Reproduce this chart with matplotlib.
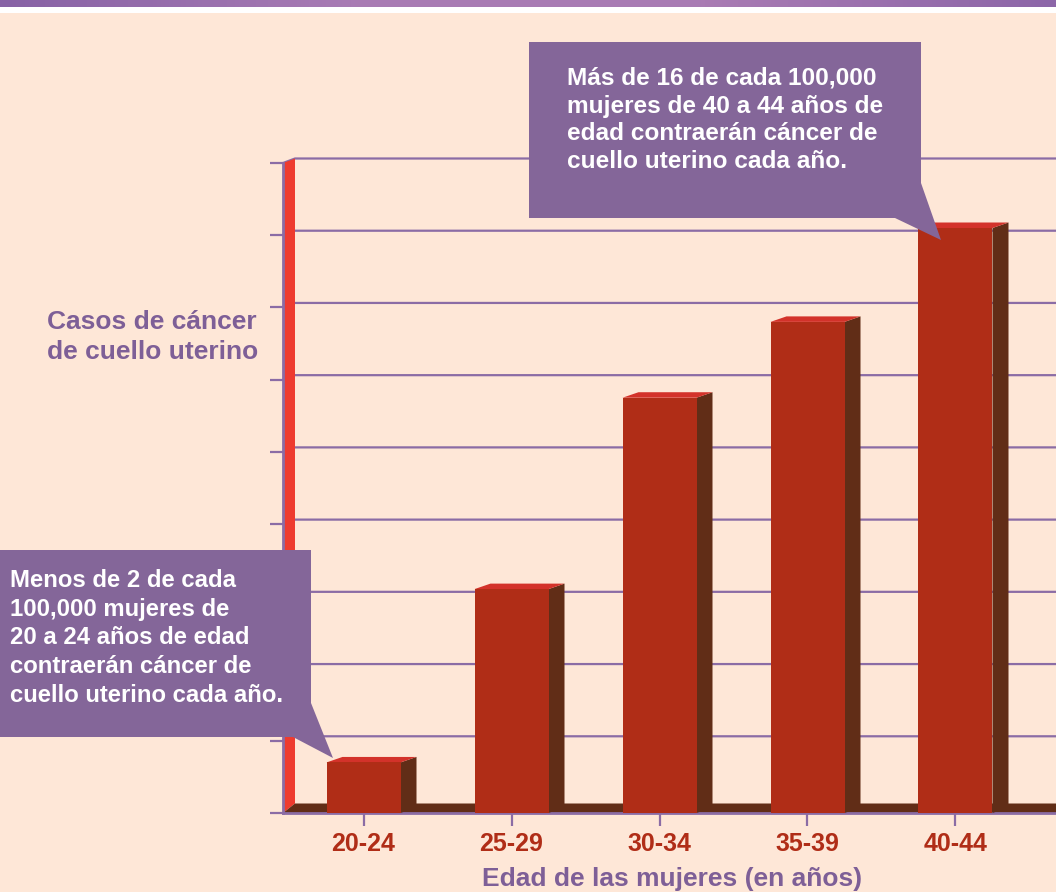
import numpy as np
import matplotlib
matplotlib.use("Agg")
import matplotlib.pyplot as plt
from matplotlib.patches import Rectangle, Polygon
from matplotlib.colors import LinearSegmentedColormap

# datos: casos de cancer de cuello uterino por cada 100,000 mujeres
edades = ["20-24", "25-29", "30-34", "35-39", "40-44"]
casos = [1.4, 6.2, 11.5, 13.6, 16.2]
yticks = list(range(0, 19, 2))

nota_alta = ("Más de 16 de cada 100,000\nmujeres de 40 a 44 años de\n"
             "edad contraerán cáncer de\ncuello uterino cada año.")
nota_baja = ("Menos de 2 de cada\n100,000 mujeres de\n20 a 24 años de edad\n"
             "contraerán cáncer de\ncuello uterino cada año.")

fondo = "#FEE7D7"
morado = "#846699"
morado_txt = "#7E5F97"
linea = "#8B6CA5"
rojo_frente = "#B02D17"
rojo_arriba = "#D3322A"
cafe = "#612D17"
rojo_pared = "#EE3B2F"

plt.rcParams["font.family"] = ["Liberation Sans", "DejaVu Sans"]

W, H = 1056, 892
fig = plt.figure(figsize=(W / 100, H / 100), dpi=100, facecolor=fondo)

# fondo: franja morada arriba
bg = fig.add_axes([0, 0, 1, 1], zorder=0)
bg.set_xlim(0, W)
bg.set_ylim(H, 0)
bg.axis("off")
grad = LinearSegmentedColormap.from_list("g", ["#8762A5", "#A87BB4", "#A97BB3", "#8C66A8"])
bg.imshow(np.linspace(0, 1, 256)[None, :], cmap=grad, extent=(0, W, 7, 0), aspect="auto")
bg.add_patch(Rectangle((0, 7), W, 6, color="white", lw=0))

# grafico
c0 = 363.5
x_left = -(c0 - 283) / 148
x_right = (W - c0) / 148
ax = fig.add_axes([283 / W, (H - 813) / H, (W - 283) / W, (813 - 163) / H], zorder=1)
ax.patch.set_alpha(0)
ax.set_xlim(x_left, x_right)
ax.set_ylim(0, 18)

px_x = 148.0
px_y = 650 / 18
wdx, wdy = 12 / px_x, 4.5 / px_y      # pared
fdy = 9.5 / px_y                      # piso
bdx, bdy = 16 / px_x, 5.5 / px_y      # barras

# lineas de la pared del fondo
for v in yticks[1:]:
    ax.plot([x_left, x_left + wdx, x_right], [v, v + wdy, v + wdy],
            color=linea, lw=1.6, zorder=1, clip_on=False, solid_capstyle="butt")

# pared roja y piso
ax.add_patch(Polygon([(x_left, 0), (x_left + wdx, fdy), (x_left + wdx, 18 + wdy), (x_left, 18)],
                     closed=True, color=rojo_pared, lw=0, zorder=1.5, clip_on=False))
ax.add_patch(Polygon([(x_left, 0), (x_left + wdx, fdy), (x_right, fdy), (x_right, 0)],
                     closed=True, color=cafe, lw=0, zorder=1.6, clip_on=False))

# barras 3D
w = 0.5
for i, v in enumerate(casos):
    x0, x1 = i - w / 2, i + w / 2
    ax.add_patch(Polygon([(x1, 0), (x1 + bdx, bdy), (x1 + bdx, v + bdy), (x1, v)],
                         closed=True, color=cafe, lw=0, zorder=3))
    ax.add_patch(Polygon([(x0, v), (x0 + bdx, v + bdy), (x1 + bdx, v + bdy), (x1, v)],
                         closed=True, color=rojo_arriba, lw=0, zorder=3))
    ax.add_patch(Rectangle((x0, 0), w, v, color=rojo_frente, lw=0, zorder=3.1))

for s in ["top", "right"]:
    ax.spines[s].set_visible(False)
for s in ["left", "bottom"]:
    ax.spines[s].set_color(linea)
    ax.spines[s].set_linewidth(2)
ax.spines["left"].set_bounds(0, 18)

ax.set_yticks(yticks)
ax.set_yticklabels([])
ax.tick_params(axis="y", length=9.5, width=1.6, color=linea)
ax.set_xticks(range(len(edades)))
ax.set_xticklabels(edades, fontsize=18, fontweight="bold", color=rojo_frente)
ax.tick_params(axis="x", length=9.5, width=1.6, color=linea, pad=4)

# capa de notas y textos
ov = fig.add_axes([0, 0, 1, 1], zorder=5)
ov.set_xlim(0, W)
ov.set_ylim(H, 0)
ov.axis("off")
ov.patch.set_alpha(0)

ov.add_patch(Polygon([(529, 42), (921, 42), (921, 183), (941, 240), (895, 218), (529, 218)],
                     closed=True, color=morado, lw=0))
ov.add_patch(Polygon([(0, 550), (311, 550), (311, 703), (333, 758), (293, 737), (0, 737)],
                     closed=True, color=morado, lw=0))
ov.text(567, 120, nota_alta, color="white", fontsize=17.6, fontweight="bold",
        ha="left", va="center", linespacing=1.27)
ov.text(10, 638, nota_baja, color="white", fontsize=17.2, fontweight="bold",
        ha="left", va="center", linespacing=1.32)

ov.text(47, 337, "Casos de cáncer\nde cuello uterino", color=morado_txt, fontsize=19,
        fontweight="bold", ha="left", va="center", linespacing=1.3)
ov.text(672, 879, "Edad de las mujeres (en años)", color=morado_txt, fontsize=19,
        fontweight="bold", ha="center", va="center")

fig.savefig("out.png", dpi=100, facecolor=fondo)
